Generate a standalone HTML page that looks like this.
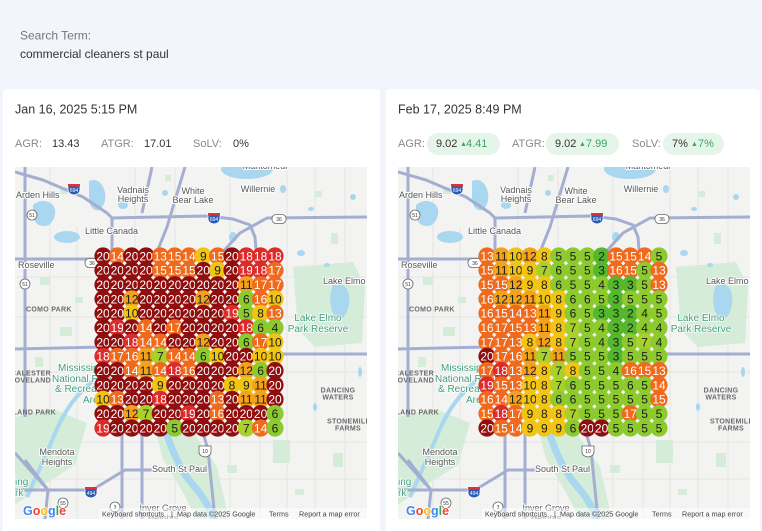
<!DOCTYPE html>
<html><head><meta charset="utf-8"><style>
html,body{margin:0;padding:0;background:#f2f5fb;}
svg{display:block;font-family:"Liberation Sans",sans-serif;}
.mk text{text-anchor:middle;font-size:12px;fill:#fff;}
.x{fill:#900e0e}.r{fill:#dc2b2b}.o{fill:#ef6a1c}.m{fill:#f4a11b}.y{fill:#f2c414}.l{fill:#a9d12c}.g{fill:#8dca2e}.G{fill:#55b82c}
circle.m+text,circle.y+text,circle.l+text,circle.g+text,circle.G+text{fill:#1d1d1d}
</style></head><body>
<svg width="762" height="531" viewBox="0 0 762 531" xmlns="http://www.w3.org/2000/svg">
<rect width="762" height="531" fill="#f2f5fb"/>
<text x="20" y="39.3" font-size="12" fill="#777">Search Term:</text>
<text x="20" y="57.8" font-size="12" fill="#333">commercial cleaners st paul</text>
<rect x="3" y="89" width="377" height="450" rx="4" fill="#fff"/>
<rect x="386" y="89" width="374" height="450" rx="4" fill="#fff"/>
<text x="15" y="113.5" font-size="12.5" fill="#333">Jan 16, 2025 5:15 PM</text>
<text x="398" y="113.5" font-size="12.5" fill="#333">Feb 17, 2025 8:49 PM</text>
<g font-size="11">
<text x="15" y="147" fill="#888">AGR:</text><text x="52" y="147" fill="#333">13.43</text>
<text x="101" y="147" fill="#888">ATGR:</text><text x="144" y="147" fill="#333">17.01</text>
<text x="193" y="147" fill="#888">SoLV:</text><text x="233" y="147" fill="#333">0%</text>
<rect x="427" y="133" width="73" height="22" rx="11" fill="#e5f5ea"/>
<rect x="546" y="133" width="73" height="22" rx="11" fill="#e5f5ea"/>
<rect x="663" y="133" width="61" height="22" rx="11" fill="#e5f5ea"/>
<text x="398" y="147" fill="#888">AGR:</text><text x="436" y="147" fill="#333">9.02</text><text x="460" y="146" font-size="7" fill="#3aa55d">▲</text><text x="466" y="147" fill="#3aa55d">4.41</text>
<text x="512" y="147" fill="#888">ATGR:</text><text x="555" y="147" fill="#333">9.02</text><text x="579" y="146" font-size="7" fill="#3aa55d">▲</text><text x="586" y="147" fill="#3aa55d">7.99</text>
<text x="632" y="147" fill="#888">SoLV:</text><text x="672" y="147" fill="#333">7%</text><text x="691" y="146" font-size="7" fill="#3aa55d">▲</text><text x="698" y="147" fill="#3aa55d">7%</text>
</g>

<!-- LEFT MAP -->
<svg x="15" y="167" width="352" height="352" overflow="hidden">
<rect width="352" height="352" fill="#f3f3f2"/>
<path d="M35 0V352M62 60V352M160 0V352M215 0V352M272 0V352M300 0V352M330 0V352M0 110H352M0 150H352M0 205H352M0 275H352M0 312H352M120 0V120M245 100V352" stroke="#e4e4e4" stroke-width="1" fill="none"/>
<g fill="#d4ecd8">
<path d="M278 100L338 95L350 120L347 176L300 180L283 162Z"/>
<path d="M140 262L176 262L202 300L214 352L182 352L166 322L148 292Z"/>
<path d="M0 250L38 242L72 256L60 298L28 318L0 338Z"/>
<rect x="45" y="20" width="8" height="7"/><rect x="150" y="8" width="6" height="6"/><rect x="300" y="24" width="7" height="6"/><rect x="316" y="66" width="7" height="11"/><rect x="258" y="273" width="17" height="23"/><rect x="318" y="286" width="10" height="14"/><rect x="212" y="298" width="10" height="8"/><rect x="280" y="322" width="9" height="6"/><rect x="25" y="110" width="10" height="8"/><rect x="45" y="160" width="12" height="9"/><rect x="20" y="190" width="8" height="10"/><rect x="60" y="130" width="8" height="6"/>
</g>
<g fill="#a8d7ef">
<path d="M18 38q10-8 20 0q6 10-4 20q-12 4-16-8z"/><ellipse cx="52" cy="70" rx="13" ry="6"/><path d="M74 14q10-4 15 8q4 12-4 21q-9 2-11-10z"/><ellipse cx="108" cy="38" rx="5" ry="4"/><ellipse cx="232" cy="2" rx="26" ry="10"/><ellipse cx="150" cy="26" rx="3" ry="3"/><ellipse cx="218" cy="70" rx="4" ry="5"/><ellipse cx="268" cy="22" rx="3" ry="4"/><ellipse cx="296" cy="42" rx="3" ry="2"/><ellipse cx="338" cy="30" rx="3" ry="3"/><ellipse cx="286" cy="86" rx="4" ry="3"/><path d="M318 118q10-4 15 6q4 14-4 26q-8 4-12-6q-4-14 1-26z"/><ellipse cx="312" cy="98" rx="3" ry="2"/><ellipse cx="345" cy="205" rx="2" ry="5"/><ellipse cx="300" cy="240" rx="2" ry="4"/>
</g>
<path d="M150 262Q162 300 178 318T198 352" stroke="#a8d7ef" stroke-width="7" fill="none"/>
<path d="M78 214Q55 232 42 262T12 330" stroke="#a8d7ef" stroke-width="4" fill="none"/>
<g stroke="#a3aed1" stroke-width="3" fill="none" stroke-linejoin="round">
<path d="M0 5L28 13L68 30L92 46L97 51L192 49L218 52L235 58L240 70L242 95"/><path d="M352 50L252 51L225 66L205 88"/><path d="M97 51V95"/><path d="M137 0L127 46"/><path d="M170 0L152 60L138 95"/><path d="M10 0V250"/><path d="M0 92H90"/><path d="M0 182L88 180"/><path d="M265 187H352"/><path d="M0 286L33 323L77 323L110 303L137 303"/><path d="M10 293L33 323L30 352"/><path d="M0 323H33"/><path d="M107 253V352"/><path d="M127 262V352"/><path d="M187 262L193 283L200 352"/>
</g>
<g font-size="5" text-anchor="middle">
<g transform="translate(59,22)"><path d="M-6 -5H6V1Q6 5 0 6Q-6 5 -6 1Z" fill="#2a5bb5" stroke="#fff" stroke-width="0.8"/><rect x="-6" y="-5" width="12" height="2.5" fill="#d33"/><text y="3" fill="#fff">694</text></g>
<g transform="translate(199,51)"><path d="M-6 -5H6V1Q6 5 0 6Q-6 5 -6 1Z" fill="#2a5bb5" stroke="#fff" stroke-width="0.8"/><rect x="-6" y="-5" width="12" height="2.5" fill="#d33"/><text y="3" fill="#fff">694</text></g>
<g transform="translate(76,325)"><path d="M-6 -5H6V1Q6 5 0 6Q-6 5 -6 1Z" fill="#2a5bb5" stroke="#fff" stroke-width="0.8"/><rect x="-6" y="-5" width="12" height="2.5" fill="#d33"/><text y="3" fill="#fff">494</text></g>
<g transform="translate(17,48)"><circle r="5" fill="#fff" stroke="#666" stroke-width="0.8"/><text y="2" fill="#333">51</text></g>
<g transform="translate(10,117)"><circle r="5" fill="#fff" stroke="#666" stroke-width="0.8"/><text y="2" fill="#333">51</text></g>
<g transform="translate(100,340)"><circle r="5" fill="#fff" stroke="#666" stroke-width="0.8"/><text y="2" fill="#333">3</text></g>
<g transform="translate(48,336)"><circle r="5" fill="#fff" stroke="#666" stroke-width="0.8"/><text y="2" fill="#333">55</text></g>
<g transform="translate(264,52)"><rect x="-7" y="-4.5" width="14" height="9" rx="4" fill="#fff" stroke="#666" stroke-width="0.8"/><text y="2" fill="#333">36</text></g>
<g transform="translate(77,96)"><rect x="-7" y="-4.5" width="14" height="9" rx="4" fill="#fff" stroke="#666" stroke-width="0.8"/><text y="2" fill="#333">36</text></g>
<g transform="translate(190,284)"><path d="M-6 -5H6V1Q6 5 0 6Q-6 5 -6 1Z" fill="#fff" stroke="#666" stroke-width="0.8"/><text y="2" fill="#333">10</text></g>
</g>
<g font-size="9" fill="#555" stroke="#fff" stroke-width="2" paint-order="stroke" stroke-linejoin="round">
<text x="1" y="31">Arden Hills</text><text x="118" y="26" text-anchor="middle">Vadnais</text><text x="118" y="35" text-anchor="middle">Heights</text><text x="178" y="27" text-anchor="middle">White</text><text x="178" y="36" text-anchor="middle">Bear Lake</text><text x="243" y="25" text-anchor="middle">Willernie</text><text x="250" y="2" text-anchor="middle">Mahtomedi</text><text x="70" y="67">Little Canada</text><text x="3" y="101">Roseville</text><text x="308" y="117">Lake Elmo</text><text x="42" y="288" text-anchor="middle">Mendota</text><text x="42" y="298" text-anchor="middle">Heights</text><text x="137" y="305">South St Paul</text><text x="148" y="344" text-anchor="middle">Inver Grove</text><text x="148" y="354" text-anchor="middle">Heights</text>
</g>
<g font-size="10" fill="#3f9c7d" stroke="#fff" stroke-width="1.5" paint-order="stroke">
<text x="303" y="154" text-anchor="middle">Lake Elmo</text><text x="303" y="165" text-anchor="middle">Park Reserve</text><text x="43" y="204">Mississippi</text><text x="37" y="215">National River</text><text x="40" y="225">&amp; Recreation</text><text x="68" y="236">Area</text><text x="0" y="318">ing</text><text x="0" y="329">rk</text>
</g>
<g font-size="7" font-weight="bold" fill="#6a6a6a" letter-spacing="0.3">
<text x="11" y="144.5">COMO PARK</text><text x="36" y="208.5" text-anchor="end">MACALESTER</text><text x="36" y="215.5" text-anchor="end">GROVELAND</text><text x="41" y="247.5" text-anchor="end">HIGHLAND PARK</text><text x="323" y="225.5" text-anchor="middle">DANCING</text><text x="323" y="232.5" text-anchor="middle">WATERS</text><text x="312" y="256.5">STONEMILL</text><text x="333" y="263.5" text-anchor="middle">FARMS</text>
</g>
<rect x="84" y="341" width="268" height="11" fill="#fff" opacity="0.5"/>
<g font-size="7.2" fill="#444"><text x="87" y="349.5">Keyboard shortcuts</text><text x="156" y="349.5">|</text><text x="162" y="349.5">Map data ©2025 Google</text><text x="254" y="349.5">Terms</text><text x="284" y="349.5">Report a map error</text></g>
<text x="8" y="348" font-size="12.5" font-weight="bold" stroke="#fff" stroke-width="1.5" paint-order="stroke"><tspan fill="#4285f4">G</tspan><tspan fill="#ea4335">o</tspan><tspan fill="#fbbc05">o</tspan><tspan fill="#4285f4">g</tspan><tspan fill="#34a853">l</tspan><tspan fill="#ea4335">e</tspan></text>
<g class="mk" transform="translate(88,89)">
<g><circle cx="0" r="8.6" class="x"/><text x="0" y="4.3">20</text><circle cx="14.3" r="8.6" class="o"/><text x="14.3" y="4.3">14</text><circle cx="28.7" r="8.6" class="x"/><text x="28.7" y="4.3">20</text><circle cx="43" r="8.6" class="x"/><text x="43" y="4.3">20</text><circle cx="57.3" r="8.6" class="o"/><text x="57.3" y="4.3">13</text><circle cx="71.7" r="8.6" class="o"/><text x="71.7" y="4.3">15</text><circle cx="86" r="8.6" class="o"/><text x="86" y="4.3">14</text><circle cx="100.3" r="8.6" class="y"/><text x="100.3" y="4.3">9</text><circle cx="114.6" r="8.6" class="o"/><text x="114.6" y="4.3">15</text><circle cx="129" r="8.6" class="x"/><text x="129" y="4.3">20</text><circle cx="143.3" r="8.6" class="r"/><text x="143.3" y="4.3">18</text><circle cx="157.6" r="8.6" class="r"/><text x="157.6" y="4.3">18</text><circle cx="172" r="8.6" class="r"/><text x="172" y="4.3">18</text></g>
<g transform="translate(0,14.3)"><circle cx="0" r="8.6" class="x"/><text x="0" y="4.3">20</text><circle cx="14.3" r="8.6" class="x"/><text x="14.3" y="4.3">20</text><circle cx="28.7" r="8.6" class="x"/><text x="28.7" y="4.3">20</text><circle cx="43" r="8.6" class="x"/><text x="43" y="4.3">20</text><circle cx="57.3" r="8.6" class="o"/><text x="57.3" y="4.3">15</text><circle cx="71.7" r="8.6" class="o"/><text x="71.7" y="4.3">15</text><circle cx="86" r="8.6" class="o"/><text x="86" y="4.3">15</text><circle cx="100.3" r="8.6" class="x"/><text x="100.3" y="4.3">20</text><circle cx="114.6" r="8.6" class="y"/><text x="114.6" y="4.3">9</text><circle cx="129" r="8.6" class="x"/><text x="129" y="4.3">20</text><circle cx="143.3" r="8.6" class="r"/><text x="143.3" y="4.3">19</text><circle cx="157.6" r="8.6" class="r"/><text x="157.6" y="4.3">18</text><circle cx="172" r="8.6" class="o"/><text x="172" y="4.3">17</text></g>
<g transform="translate(0,28.7)"><circle cx="0" r="8.6" class="x"/><text x="0" y="4.3">20</text><circle cx="14.3" r="8.6" class="x"/><text x="14.3" y="4.3">20</text><circle cx="28.7" r="8.6" class="x"/><text x="28.7" y="4.3">20</text><circle cx="43" r="8.6" class="x"/><text x="43" y="4.3">20</text><circle cx="57.3" r="8.6" class="x"/><text x="57.3" y="4.3">20</text><circle cx="71.7" r="8.6" class="x"/><text x="71.7" y="4.3">20</text><circle cx="86" r="8.6" class="x"/><text x="86" y="4.3">20</text><circle cx="100.3" r="8.6" class="x"/><text x="100.3" y="4.3">20</text><circle cx="114.6" r="8.6" class="x"/><text x="114.6" y="4.3">20</text><circle cx="129" r="8.6" class="x"/><text x="129" y="4.3">20</text><circle cx="143.3" r="8.6" class="m"/><text x="143.3" y="4.3">11</text><circle cx="157.6" r="8.6" class="o"/><text x="157.6" y="4.3">17</text><circle cx="172" r="8.6" class="o"/><text x="172" y="4.3">17</text></g>
<g transform="translate(0,43)"><circle cx="0" r="8.6" class="x"/><text x="0" y="4.3">20</text><circle cx="14.3" r="8.6" class="x"/><text x="14.3" y="4.3">20</text><circle cx="28.7" r="8.6" class="m"/><text x="28.7" y="4.3">12</text><circle cx="43" r="8.6" class="x"/><text x="43" y="4.3">20</text><circle cx="57.3" r="8.6" class="x"/><text x="57.3" y="4.3">20</text><circle cx="71.7" r="8.6" class="x"/><text x="71.7" y="4.3">20</text><circle cx="86" r="8.6" class="x"/><text x="86" y="4.3">20</text><circle cx="100.3" r="8.6" class="m"/><text x="100.3" y="4.3">12</text><circle cx="114.6" r="8.6" class="x"/><text x="114.6" y="4.3">20</text><circle cx="129" r="8.6" class="x"/><text x="129" y="4.3">20</text><circle cx="143.3" r="8.6" class="g"/><text x="143.3" y="4.3">6</text><circle cx="157.6" r="8.6" class="o"/><text x="157.6" y="4.3">16</text><circle cx="172" r="8.6" class="y"/><text x="172" y="4.3">10</text></g>
<g transform="translate(0,57.3)"><circle cx="0" r="8.6" class="x"/><text x="0" y="4.3">20</text><circle cx="14.3" r="8.6" class="x"/><text x="14.3" y="4.3">20</text><circle cx="28.7" r="8.6" class="y"/><text x="28.7" y="4.3">10</text><circle cx="43" r="8.6" class="x"/><text x="43" y="4.3">20</text><circle cx="57.3" r="8.6" class="x"/><text x="57.3" y="4.3">20</text><circle cx="71.7" r="8.6" class="x"/><text x="71.7" y="4.3">20</text><circle cx="86" r="8.6" class="x"/><text x="86" y="4.3">20</text><circle cx="100.3" r="8.6" class="x"/><text x="100.3" y="4.3">20</text><circle cx="114.6" r="8.6" class="x"/><text x="114.6" y="4.3">20</text><circle cx="129" r="8.6" class="r"/><text x="129" y="4.3">19</text><circle cx="143.3" r="8.6" class="g"/><text x="143.3" y="4.3">5</text><circle cx="157.6" r="8.6" class="y"/><text x="157.6" y="4.3">8</text><circle cx="172" r="8.6" class="o"/><text x="172" y="4.3">13</text></g>
<g transform="translate(0,71.7)"><circle cx="0" r="8.6" class="x"/><text x="0" y="4.3">20</text><circle cx="14.3" r="8.6" class="r"/><text x="14.3" y="4.3">19</text><circle cx="28.7" r="8.6" class="x"/><text x="28.7" y="4.3">20</text><circle cx="43" r="8.6" class="o"/><text x="43" y="4.3">14</text><circle cx="57.3" r="8.6" class="x"/><text x="57.3" y="4.3">20</text><circle cx="71.7" r="8.6" class="o"/><text x="71.7" y="4.3">17</text><circle cx="86" r="8.6" class="x"/><text x="86" y="4.3">20</text><circle cx="100.3" r="8.6" class="x"/><text x="100.3" y="4.3">20</text><circle cx="114.6" r="8.6" class="x"/><text x="114.6" y="4.3">20</text><circle cx="129" r="8.6" class="x"/><text x="129" y="4.3">20</text><circle cx="143.3" r="8.6" class="r"/><text x="143.3" y="4.3">18</text><circle cx="157.6" r="8.6" class="g"/><text x="157.6" y="4.3">6</text><circle cx="172" r="8.6" class="g"/><text x="172" y="4.3">4</text></g>
<g transform="translate(0,86)"><circle cx="0" r="8.6" class="x"/><text x="0" y="4.3">20</text><circle cx="14.3" r="8.6" class="x"/><text x="14.3" y="4.3">20</text><circle cx="28.7" r="8.6" class="r"/><text x="28.7" y="4.3">18</text><circle cx="43" r="8.6" class="o"/><text x="43" y="4.3">14</text><circle cx="57.3" r="8.6" class="o"/><text x="57.3" y="4.3">14</text><circle cx="71.7" r="8.6" class="x"/><text x="71.7" y="4.3">20</text><circle cx="86" r="8.6" class="x"/><text x="86" y="4.3">20</text><circle cx="100.3" r="8.6" class="m"/><text x="100.3" y="4.3">12</text><circle cx="114.6" r="8.6" class="x"/><text x="114.6" y="4.3">20</text><circle cx="129" r="8.6" class="x"/><text x="129" y="4.3">20</text><circle cx="143.3" r="8.6" class="g"/><text x="143.3" y="4.3">6</text><circle cx="157.6" r="8.6" class="o"/><text x="157.6" y="4.3">17</text><circle cx="172" r="8.6" class="y"/><text x="172" y="4.3">10</text></g>
<g transform="translate(0,100.3)"><circle cx="0" r="8.6" class="r"/><text x="0" y="4.3">18</text><circle cx="14.3" r="8.6" class="o"/><text x="14.3" y="4.3">17</text><circle cx="28.7" r="8.6" class="o"/><text x="28.7" y="4.3">16</text><circle cx="43" r="8.6" class="m"/><text x="43" y="4.3">11</text><circle cx="57.3" r="8.6" class="l"/><text x="57.3" y="4.3">7</text><circle cx="71.7" r="8.6" class="o"/><text x="71.7" y="4.3">14</text><circle cx="86" r="8.6" class="o"/><text x="86" y="4.3">14</text><circle cx="100.3" r="8.6" class="g"/><text x="100.3" y="4.3">6</text><circle cx="114.6" r="8.6" class="y"/><text x="114.6" y="4.3">10</text><circle cx="129" r="8.6" class="x"/><text x="129" y="4.3">20</text><circle cx="143.3" r="8.6" class="x"/><text x="143.3" y="4.3">20</text><circle cx="157.6" r="8.6" class="y"/><text x="157.6" y="4.3">10</text><circle cx="172" r="8.6" class="y"/><text x="172" y="4.3">10</text></g>
<g transform="translate(0,114.6)"><circle cx="0" r="8.6" class="x"/><text x="0" y="4.3">20</text><circle cx="14.3" r="8.6" class="x"/><text x="14.3" y="4.3">20</text><circle cx="28.7" r="8.6" class="o"/><text x="28.7" y="4.3">14</text><circle cx="43" r="8.6" class="m"/><text x="43" y="4.3">11</text><circle cx="57.3" r="8.6" class="o"/><text x="57.3" y="4.3">14</text><circle cx="71.7" r="8.6" class="r"/><text x="71.7" y="4.3">18</text><circle cx="86" r="8.6" class="o"/><text x="86" y="4.3">16</text><circle cx="100.3" r="8.6" class="x"/><text x="100.3" y="4.3">20</text><circle cx="114.6" r="8.6" class="x"/><text x="114.6" y="4.3">20</text><circle cx="129" r="8.6" class="x"/><text x="129" y="4.3">20</text><circle cx="143.3" r="8.6" class="m"/><text x="143.3" y="4.3">12</text><circle cx="157.6" r="8.6" class="g"/><text x="157.6" y="4.3">6</text><circle cx="172" r="8.6" class="x"/><text x="172" y="4.3">20</text></g>
<g transform="translate(0,129)"><circle cx="0" r="8.6" class="x"/><text x="0" y="4.3">20</text><circle cx="14.3" r="8.6" class="x"/><text x="14.3" y="4.3">20</text><circle cx="28.7" r="8.6" class="x"/><text x="28.7" y="4.3">20</text><circle cx="43" r="8.6" class="x"/><text x="43" y="4.3">20</text><circle cx="57.3" r="8.6" class="y"/><text x="57.3" y="4.3">9</text><circle cx="71.7" r="8.6" class="x"/><text x="71.7" y="4.3">20</text><circle cx="86" r="8.6" class="x"/><text x="86" y="4.3">20</text><circle cx="100.3" r="8.6" class="x"/><text x="100.3" y="4.3">20</text><circle cx="114.6" r="8.6" class="x"/><text x="114.6" y="4.3">20</text><circle cx="129" r="8.6" class="y"/><text x="129" y="4.3">8</text><circle cx="143.3" r="8.6" class="y"/><text x="143.3" y="4.3">9</text><circle cx="157.6" r="8.6" class="m"/><text x="157.6" y="4.3">11</text><circle cx="172" r="8.6" class="x"/><text x="172" y="4.3">20</text></g>
<g transform="translate(0,143.3)"><circle cx="0" r="8.6" class="y"/><text x="0" y="4.3">10</text><circle cx="14.3" r="8.6" class="o"/><text x="14.3" y="4.3">13</text><circle cx="28.7" r="8.6" class="x"/><text x="28.7" y="4.3">20</text><circle cx="43" r="8.6" class="x"/><text x="43" y="4.3">20</text><circle cx="57.3" r="8.6" class="r"/><text x="57.3" y="4.3">18</text><circle cx="71.7" r="8.6" class="x"/><text x="71.7" y="4.3">20</text><circle cx="86" r="8.6" class="x"/><text x="86" y="4.3">20</text><circle cx="100.3" r="8.6" class="x"/><text x="100.3" y="4.3">20</text><circle cx="114.6" r="8.6" class="o"/><text x="114.6" y="4.3">13</text><circle cx="129" r="8.6" class="x"/><text x="129" y="4.3">20</text><circle cx="143.3" r="8.6" class="m"/><text x="143.3" y="4.3">11</text><circle cx="157.6" r="8.6" class="m"/><text x="157.6" y="4.3">11</text><circle cx="172" r="8.6" class="x"/><text x="172" y="4.3">20</text></g>
<g transform="translate(0,157.6)"><circle cx="0" r="8.6" class="x"/><text x="0" y="4.3">20</text><circle cx="14.3" r="8.6" class="x"/><text x="14.3" y="4.3">20</text><circle cx="28.7" r="8.6" class="m"/><text x="28.7" y="4.3">12</text><circle cx="43" r="8.6" class="l"/><text x="43" y="4.3">7</text><circle cx="57.3" r="8.6" class="x"/><text x="57.3" y="4.3">20</text><circle cx="71.7" r="8.6" class="x"/><text x="71.7" y="4.3">20</text><circle cx="86" r="8.6" class="r"/><text x="86" y="4.3">19</text><circle cx="100.3" r="8.6" class="x"/><text x="100.3" y="4.3">20</text><circle cx="114.6" r="8.6" class="o"/><text x="114.6" y="4.3">16</text><circle cx="129" r="8.6" class="x"/><text x="129" y="4.3">20</text><circle cx="143.3" r="8.6" class="x"/><text x="143.3" y="4.3">20</text><circle cx="157.6" r="8.6" class="x"/><text x="157.6" y="4.3">20</text><circle cx="172" r="8.6" class="g"/><text x="172" y="4.3">6</text></g>
<g transform="translate(0,172)"><circle cx="0" r="8.6" class="r"/><text x="0" y="4.3">19</text><circle cx="14.3" r="8.6" class="x"/><text x="14.3" y="4.3">20</text><circle cx="28.7" r="8.6" class="x"/><text x="28.7" y="4.3">20</text><circle cx="43" r="8.6" class="x"/><text x="43" y="4.3">20</text><circle cx="57.3" r="8.6" class="x"/><text x="57.3" y="4.3">20</text><circle cx="71.7" r="8.6" class="g"/><text x="71.7" y="4.3">5</text><circle cx="86" r="8.6" class="x"/><text x="86" y="4.3">20</text><circle cx="100.3" r="8.6" class="x"/><text x="100.3" y="4.3">20</text><circle cx="114.6" r="8.6" class="x"/><text x="114.6" y="4.3">20</text><circle cx="129" r="8.6" class="x"/><text x="129" y="4.3">20</text><circle cx="143.3" r="8.6" class="l"/><text x="143.3" y="4.3">7</text><circle cx="157.6" r="8.6" class="o"/><text x="157.6" y="4.3">14</text><circle cx="172" r="8.6" class="g"/><text x="172" y="4.3">6</text></g>
</g>
</svg>

<!-- RIGHT MAP -->
<svg x="398" y="167" width="352" height="352" overflow="hidden">
<rect width="352" height="352" fill="#f3f3f2"/>
<path d="M35 0V352M62 60V352M160 0V352M215 0V352M272 0V352M300 0V352M330 0V352M0 110H352M0 150H352M0 205H352M0 275H352M0 312H352M120 0V120M245 100V352" stroke="#e4e4e4" stroke-width="1" fill="none"/>
<g fill="#d4ecd8">
<path d="M278 100L338 95L350 120L347 176L300 180L283 162Z"/>
<path d="M140 262L176 262L202 300L214 352L182 352L166 322L148 292Z"/>
<path d="M0 250L38 242L72 256L60 298L28 318L0 338Z"/>
<rect x="45" y="20" width="8" height="7"/><rect x="150" y="8" width="6" height="6"/><rect x="300" y="24" width="7" height="6"/><rect x="316" y="66" width="7" height="11"/><rect x="258" y="273" width="17" height="23"/><rect x="318" y="286" width="10" height="14"/><rect x="212" y="298" width="10" height="8"/><rect x="280" y="322" width="9" height="6"/><rect x="25" y="110" width="10" height="8"/><rect x="45" y="160" width="12" height="9"/><rect x="20" y="190" width="8" height="10"/><rect x="60" y="130" width="8" height="6"/>
</g>
<g fill="#a8d7ef">
<path d="M18 38q10-8 20 0q6 10-4 20q-12 4-16-8z"/><ellipse cx="52" cy="70" rx="13" ry="6"/><path d="M74 14q10-4 15 8q4 12-4 21q-9 2-11-10z"/><ellipse cx="108" cy="38" rx="5" ry="4"/><ellipse cx="232" cy="2" rx="26" ry="10"/><ellipse cx="150" cy="26" rx="3" ry="3"/><ellipse cx="218" cy="70" rx="4" ry="5"/><ellipse cx="268" cy="22" rx="3" ry="4"/><ellipse cx="296" cy="42" rx="3" ry="2"/><ellipse cx="338" cy="30" rx="3" ry="3"/><ellipse cx="286" cy="86" rx="4" ry="3"/><path d="M318 118q10-4 15 6q4 14-4 26q-8 4-12-6q-4-14 1-26z"/><ellipse cx="312" cy="98" rx="3" ry="2"/><ellipse cx="345" cy="205" rx="2" ry="5"/><ellipse cx="300" cy="240" rx="2" ry="4"/>
</g>
<path d="M150 262Q162 300 178 318T198 352" stroke="#a8d7ef" stroke-width="7" fill="none"/>
<path d="M78 214Q55 232 42 262T12 330" stroke="#a8d7ef" stroke-width="4" fill="none"/>
<g stroke="#a3aed1" stroke-width="3" fill="none" stroke-linejoin="round">
<path d="M0 5L28 13L68 30L92 46L97 51L192 49L218 52L235 58L240 70L242 95"/><path d="M352 50L252 51L225 66L205 88"/><path d="M97 51V95"/><path d="M137 0L127 46"/><path d="M170 0L152 60L138 95"/><path d="M10 0V250"/><path d="M0 92H90"/><path d="M0 182L88 180"/><path d="M265 187H352"/><path d="M0 286L33 323L77 323L110 303L137 303"/><path d="M10 293L33 323L30 352"/><path d="M0 323H33"/><path d="M107 253V352"/><path d="M127 262V352"/><path d="M187 262L193 283L200 352"/>
</g>
<g font-size="5" text-anchor="middle">
<g transform="translate(59,22)"><path d="M-6 -5H6V1Q6 5 0 6Q-6 5 -6 1Z" fill="#2a5bb5" stroke="#fff" stroke-width="0.8"/><rect x="-6" y="-5" width="12" height="2.5" fill="#d33"/><text y="3" fill="#fff">694</text></g>
<g transform="translate(199,51)"><path d="M-6 -5H6V1Q6 5 0 6Q-6 5 -6 1Z" fill="#2a5bb5" stroke="#fff" stroke-width="0.8"/><rect x="-6" y="-5" width="12" height="2.5" fill="#d33"/><text y="3" fill="#fff">694</text></g>
<g transform="translate(76,325)"><path d="M-6 -5H6V1Q6 5 0 6Q-6 5 -6 1Z" fill="#2a5bb5" stroke="#fff" stroke-width="0.8"/><rect x="-6" y="-5" width="12" height="2.5" fill="#d33"/><text y="3" fill="#fff">494</text></g>
<g transform="translate(17,48)"><circle r="5" fill="#fff" stroke="#666" stroke-width="0.8"/><text y="2" fill="#333">51</text></g>
<g transform="translate(10,117)"><circle r="5" fill="#fff" stroke="#666" stroke-width="0.8"/><text y="2" fill="#333">51</text></g>
<g transform="translate(100,340)"><circle r="5" fill="#fff" stroke="#666" stroke-width="0.8"/><text y="2" fill="#333">3</text></g>
<g transform="translate(48,336)"><circle r="5" fill="#fff" stroke="#666" stroke-width="0.8"/><text y="2" fill="#333">55</text></g>
<g transform="translate(264,52)"><rect x="-7" y="-4.5" width="14" height="9" rx="4" fill="#fff" stroke="#666" stroke-width="0.8"/><text y="2" fill="#333">36</text></g>
<g transform="translate(77,96)"><rect x="-7" y="-4.5" width="14" height="9" rx="4" fill="#fff" stroke="#666" stroke-width="0.8"/><text y="2" fill="#333">36</text></g>
<g transform="translate(190,284)"><path d="M-6 -5H6V1Q6 5 0 6Q-6 5 -6 1Z" fill="#fff" stroke="#666" stroke-width="0.8"/><text y="2" fill="#333">10</text></g>
</g>
<g font-size="9" fill="#555" stroke="#fff" stroke-width="2" paint-order="stroke" stroke-linejoin="round">
<text x="1" y="31">Arden Hills</text><text x="118" y="26" text-anchor="middle">Vadnais</text><text x="118" y="35" text-anchor="middle">Heights</text><text x="178" y="27" text-anchor="middle">White</text><text x="178" y="36" text-anchor="middle">Bear Lake</text><text x="243" y="25" text-anchor="middle">Willernie</text><text x="250" y="2" text-anchor="middle">Mahtomedi</text><text x="70" y="67">Little Canada</text><text x="3" y="101">Roseville</text><text x="308" y="117">Lake Elmo</text><text x="42" y="288" text-anchor="middle">Mendota</text><text x="42" y="298" text-anchor="middle">Heights</text><text x="137" y="305">South St Paul</text><text x="148" y="344" text-anchor="middle">Inver Grove</text><text x="148" y="354" text-anchor="middle">Heights</text>
</g>
<g font-size="10" fill="#3f9c7d" stroke="#fff" stroke-width="1.5" paint-order="stroke">
<text x="303" y="154" text-anchor="middle">Lake Elmo</text><text x="303" y="165" text-anchor="middle">Park Reserve</text><text x="43" y="204">Mississippi</text><text x="37" y="215">National River</text><text x="40" y="225">&amp; Recreation</text><text x="68" y="236">Area</text><text x="0" y="318">ing</text><text x="0" y="329">rk</text>
</g>
<g font-size="7" font-weight="bold" fill="#6a6a6a" letter-spacing="0.3">
<text x="11" y="144.5">COMO PARK</text><text x="36" y="208.5" text-anchor="end">MACALESTER</text><text x="36" y="215.5" text-anchor="end">GROVELAND</text><text x="41" y="247.5" text-anchor="end">HIGHLAND PARK</text><text x="323" y="225.5" text-anchor="middle">DANCING</text><text x="323" y="232.5" text-anchor="middle">WATERS</text><text x="312" y="256.5">STONEMILL</text><text x="333" y="263.5" text-anchor="middle">FARMS</text>
</g>
<rect x="84" y="341" width="268" height="11" fill="#fff" opacity="0.5"/>
<g font-size="7.2" fill="#444"><text x="87" y="349.5">Keyboard shortcuts</text><text x="156" y="349.5">|</text><text x="162" y="349.5">Map data ©2025 Google</text><text x="254" y="349.5">Terms</text><text x="284" y="349.5">Report a map error</text></g>
<text x="8" y="348" font-size="12.5" font-weight="bold" stroke="#fff" stroke-width="1.5" paint-order="stroke"><tspan fill="#4285f4">G</tspan><tspan fill="#ea4335">o</tspan><tspan fill="#fbbc05">o</tspan><tspan fill="#4285f4">g</tspan><tspan fill="#34a853">l</tspan><tspan fill="#ea4335">e</tspan></text>
<g class="mk" transform="translate(89,89)">
<g><circle cx="0" r="8.6" class="o"/><text x="0" y="4.3">13</text><circle cx="14.3" r="8.6" class="m"/><text x="14.3" y="4.3">11</text><circle cx="28.7" r="8.6" class="y"/><text x="28.7" y="4.3">10</text><circle cx="43" r="8.6" class="m"/><text x="43" y="4.3">12</text><circle cx="57.3" r="8.6" class="y"/><text x="57.3" y="4.3">8</text><circle cx="71.7" r="8.6" class="g"/><text x="71.7" y="4.3">5</text><circle cx="86" r="8.6" class="g"/><text x="86" y="4.3">5</text><circle cx="100.3" r="8.6" class="g"/><text x="100.3" y="4.3">5</text><circle cx="114.6" r="8.6" class="G"/><text x="114.6" y="4.3">2</text><circle cx="129" r="8.6" class="o"/><text x="129" y="4.3">15</text><circle cx="143.3" r="8.6" class="o"/><text x="143.3" y="4.3">15</text><circle cx="157.6" r="8.6" class="o"/><text x="157.6" y="4.3">14</text><circle cx="172" r="8.6" class="g"/><text x="172" y="4.3">5</text></g>
<g transform="translate(0,14.3)"><circle cx="0" r="8.6" class="o"/><text x="0" y="4.3">15</text><circle cx="14.3" r="8.6" class="m"/><text x="14.3" y="4.3">11</text><circle cx="28.7" r="8.6" class="y"/><text x="28.7" y="4.3">10</text><circle cx="43" r="8.6" class="y"/><text x="43" y="4.3">9</text><circle cx="57.3" r="8.6" class="l"/><text x="57.3" y="4.3">7</text><circle cx="71.7" r="8.6" class="g"/><text x="71.7" y="4.3">6</text><circle cx="86" r="8.6" class="g"/><text x="86" y="4.3">5</text><circle cx="100.3" r="8.6" class="g"/><text x="100.3" y="4.3">5</text><circle cx="114.6" r="8.6" class="G"/><text x="114.6" y="4.3">3</text><circle cx="129" r="8.6" class="o"/><text x="129" y="4.3">16</text><circle cx="143.3" r="8.6" class="o"/><text x="143.3" y="4.3">15</text><circle cx="157.6" r="8.6" class="g"/><text x="157.6" y="4.3">5</text><circle cx="172" r="8.6" class="o"/><text x="172" y="4.3">13</text></g>
<g transform="translate(0,28.7)"><circle cx="0" r="8.6" class="o"/><text x="0" y="4.3">15</text><circle cx="14.3" r="8.6" class="o"/><text x="14.3" y="4.3">15</text><circle cx="28.7" r="8.6" class="m"/><text x="28.7" y="4.3">12</text><circle cx="43" r="8.6" class="y"/><text x="43" y="4.3">9</text><circle cx="57.3" r="8.6" class="y"/><text x="57.3" y="4.3">8</text><circle cx="71.7" r="8.6" class="g"/><text x="71.7" y="4.3">6</text><circle cx="86" r="8.6" class="g"/><text x="86" y="4.3">5</text><circle cx="100.3" r="8.6" class="g"/><text x="100.3" y="4.3">5</text><circle cx="114.6" r="8.6" class="g"/><text x="114.6" y="4.3">4</text><circle cx="129" r="8.6" class="G"/><text x="129" y="4.3">3</text><circle cx="143.3" r="8.6" class="G"/><text x="143.3" y="4.3">3</text><circle cx="157.6" r="8.6" class="g"/><text x="157.6" y="4.3">5</text><circle cx="172" r="8.6" class="o"/><text x="172" y="4.3">13</text></g>
<g transform="translate(0,43)"><circle cx="0" r="8.6" class="o"/><text x="0" y="4.3">16</text><circle cx="14.3" r="8.6" class="m"/><text x="14.3" y="4.3">12</text><circle cx="28.7" r="8.6" class="m"/><text x="28.7" y="4.3">12</text><circle cx="43" r="8.6" class="m"/><text x="43" y="4.3">11</text><circle cx="57.3" r="8.6" class="y"/><text x="57.3" y="4.3">10</text><circle cx="71.7" r="8.6" class="y"/><text x="71.7" y="4.3">8</text><circle cx="86" r="8.6" class="g"/><text x="86" y="4.3">6</text><circle cx="100.3" r="8.6" class="g"/><text x="100.3" y="4.3">6</text><circle cx="114.6" r="8.6" class="g"/><text x="114.6" y="4.3">5</text><circle cx="129" r="8.6" class="G"/><text x="129" y="4.3">3</text><circle cx="143.3" r="8.6" class="g"/><text x="143.3" y="4.3">5</text><circle cx="157.6" r="8.6" class="g"/><text x="157.6" y="4.3">5</text><circle cx="172" r="8.6" class="g"/><text x="172" y="4.3">5</text></g>
<g transform="translate(0,57.3)"><circle cx="0" r="8.6" class="o"/><text x="0" y="4.3">16</text><circle cx="14.3" r="8.6" class="o"/><text x="14.3" y="4.3">15</text><circle cx="28.7" r="8.6" class="o"/><text x="28.7" y="4.3">14</text><circle cx="43" r="8.6" class="o"/><text x="43" y="4.3">13</text><circle cx="57.3" r="8.6" class="m"/><text x="57.3" y="4.3">11</text><circle cx="71.7" r="8.6" class="y"/><text x="71.7" y="4.3">9</text><circle cx="86" r="8.6" class="g"/><text x="86" y="4.3">6</text><circle cx="100.3" r="8.6" class="g"/><text x="100.3" y="4.3">5</text><circle cx="114.6" r="8.6" class="G"/><text x="114.6" y="4.3">3</text><circle cx="129" r="8.6" class="G"/><text x="129" y="4.3">3</text><circle cx="143.3" r="8.6" class="G"/><text x="143.3" y="4.3">2</text><circle cx="157.6" r="8.6" class="g"/><text x="157.6" y="4.3">4</text><circle cx="172" r="8.6" class="g"/><text x="172" y="4.3">5</text></g>
<g transform="translate(0,71.7)"><circle cx="0" r="8.6" class="o"/><text x="0" y="4.3">16</text><circle cx="14.3" r="8.6" class="o"/><text x="14.3" y="4.3">17</text><circle cx="28.7" r="8.6" class="o"/><text x="28.7" y="4.3">15</text><circle cx="43" r="8.6" class="o"/><text x="43" y="4.3">13</text><circle cx="57.3" r="8.6" class="m"/><text x="57.3" y="4.3">11</text><circle cx="71.7" r="8.6" class="y"/><text x="71.7" y="4.3">8</text><circle cx="86" r="8.6" class="l"/><text x="86" y="4.3">7</text><circle cx="100.3" r="8.6" class="g"/><text x="100.3" y="4.3">5</text><circle cx="114.6" r="8.6" class="g"/><text x="114.6" y="4.3">4</text><circle cx="129" r="8.6" class="G"/><text x="129" y="4.3">3</text><circle cx="143.3" r="8.6" class="G"/><text x="143.3" y="4.3">2</text><circle cx="157.6" r="8.6" class="g"/><text x="157.6" y="4.3">4</text><circle cx="172" r="8.6" class="g"/><text x="172" y="4.3">4</text></g>
<g transform="translate(0,86)"><circle cx="0" r="8.6" class="o"/><text x="0" y="4.3">17</text><circle cx="14.3" r="8.6" class="o"/><text x="14.3" y="4.3">17</text><circle cx="28.7" r="8.6" class="o"/><text x="28.7" y="4.3">13</text><circle cx="43" r="8.6" class="y"/><text x="43" y="4.3">8</text><circle cx="57.3" r="8.6" class="m"/><text x="57.3" y="4.3">12</text><circle cx="71.7" r="8.6" class="y"/><text x="71.7" y="4.3">8</text><circle cx="86" r="8.6" class="l"/><text x="86" y="4.3">7</text><circle cx="100.3" r="8.6" class="g"/><text x="100.3" y="4.3">5</text><circle cx="114.6" r="8.6" class="g"/><text x="114.6" y="4.3">4</text><circle cx="129" r="8.6" class="G"/><text x="129" y="4.3">3</text><circle cx="143.3" r="8.6" class="g"/><text x="143.3" y="4.3">5</text><circle cx="157.6" r="8.6" class="l"/><text x="157.6" y="4.3">7</text><circle cx="172" r="8.6" class="g"/><text x="172" y="4.3">4</text></g>
<g transform="translate(0,100.3)"><circle cx="0" r="8.6" class="x"/><text x="0" y="4.3">20</text><circle cx="14.3" r="8.6" class="o"/><text x="14.3" y="4.3">17</text><circle cx="28.7" r="8.6" class="o"/><text x="28.7" y="4.3">16</text><circle cx="43" r="8.6" class="m"/><text x="43" y="4.3">11</text><circle cx="57.3" r="8.6" class="l"/><text x="57.3" y="4.3">7</text><circle cx="71.7" r="8.6" class="m"/><text x="71.7" y="4.3">11</text><circle cx="86" r="8.6" class="g"/><text x="86" y="4.3">5</text><circle cx="100.3" r="8.6" class="g"/><text x="100.3" y="4.3">5</text><circle cx="114.6" r="8.6" class="g"/><text x="114.6" y="4.3">5</text><circle cx="129" r="8.6" class="G"/><text x="129" y="4.3">3</text><circle cx="143.3" r="8.6" class="g"/><text x="143.3" y="4.3">5</text><circle cx="157.6" r="8.6" class="g"/><text x="157.6" y="4.3">5</text><circle cx="172" r="8.6" class="g"/><text x="172" y="4.3">5</text></g>
<g transform="translate(0,114.6)"><circle cx="0" r="8.6" class="o"/><text x="0" y="4.3">17</text><circle cx="14.3" r="8.6" class="r"/><text x="14.3" y="4.3">18</text><circle cx="28.7" r="8.6" class="o"/><text x="28.7" y="4.3">13</text><circle cx="43" r="8.6" class="m"/><text x="43" y="4.3">12</text><circle cx="57.3" r="8.6" class="y"/><text x="57.3" y="4.3">8</text><circle cx="71.7" r="8.6" class="l"/><text x="71.7" y="4.3">7</text><circle cx="86" r="8.6" class="y"/><text x="86" y="4.3">8</text><circle cx="100.3" r="8.6" class="g"/><text x="100.3" y="4.3">5</text><circle cx="114.6" r="8.6" class="g"/><text x="114.6" y="4.3">5</text><circle cx="129" r="8.6" class="g"/><text x="129" y="4.3">4</text><circle cx="143.3" r="8.6" class="o"/><text x="143.3" y="4.3">16</text><circle cx="157.6" r="8.6" class="o"/><text x="157.6" y="4.3">15</text><circle cx="172" r="8.6" class="o"/><text x="172" y="4.3">13</text></g>
<g transform="translate(0,129)"><circle cx="0" r="8.6" class="r"/><text x="0" y="4.3">19</text><circle cx="14.3" r="8.6" class="o"/><text x="14.3" y="4.3">15</text><circle cx="28.7" r="8.6" class="o"/><text x="28.7" y="4.3">13</text><circle cx="43" r="8.6" class="y"/><text x="43" y="4.3">10</text><circle cx="57.3" r="8.6" class="y"/><text x="57.3" y="4.3">8</text><circle cx="71.7" r="8.6" class="l"/><text x="71.7" y="4.3">7</text><circle cx="86" r="8.6" class="g"/><text x="86" y="4.3">6</text><circle cx="100.3" r="8.6" class="g"/><text x="100.3" y="4.3">5</text><circle cx="114.6" r="8.6" class="g"/><text x="114.6" y="4.3">5</text><circle cx="129" r="8.6" class="g"/><text x="129" y="4.3">5</text><circle cx="143.3" r="8.6" class="g"/><text x="143.3" y="4.3">6</text><circle cx="157.6" r="8.6" class="g"/><text x="157.6" y="4.3">5</text><circle cx="172" r="8.6" class="o"/><text x="172" y="4.3">14</text></g>
<g transform="translate(0,143.3)"><circle cx="0" r="8.6" class="o"/><text x="0" y="4.3">16</text><circle cx="14.3" r="8.6" class="o"/><text x="14.3" y="4.3">14</text><circle cx="28.7" r="8.6" class="m"/><text x="28.7" y="4.3">12</text><circle cx="43" r="8.6" class="y"/><text x="43" y="4.3">10</text><circle cx="57.3" r="8.6" class="y"/><text x="57.3" y="4.3">8</text><circle cx="71.7" r="8.6" class="g"/><text x="71.7" y="4.3">6</text><circle cx="86" r="8.6" class="g"/><text x="86" y="4.3">6</text><circle cx="100.3" r="8.6" class="g"/><text x="100.3" y="4.3">5</text><circle cx="114.6" r="8.6" class="g"/><text x="114.6" y="4.3">5</text><circle cx="129" r="8.6" class="g"/><text x="129" y="4.3">5</text><circle cx="143.3" r="8.6" class="g"/><text x="143.3" y="4.3">5</text><circle cx="157.6" r="8.6" class="g"/><text x="157.6" y="4.3">5</text><circle cx="172" r="8.6" class="o"/><text x="172" y="4.3">15</text></g>
<g transform="translate(0,157.6)"><circle cx="0" r="8.6" class="o"/><text x="0" y="4.3">15</text><circle cx="14.3" r="8.6" class="r"/><text x="14.3" y="4.3">18</text><circle cx="28.7" r="8.6" class="o"/><text x="28.7" y="4.3">17</text><circle cx="43" r="8.6" class="y"/><text x="43" y="4.3">9</text><circle cx="57.3" r="8.6" class="y"/><text x="57.3" y="4.3">8</text><circle cx="71.7" r="8.6" class="y"/><text x="71.7" y="4.3">8</text><circle cx="86" r="8.6" class="l"/><text x="86" y="4.3">7</text><circle cx="100.3" r="8.6" class="g"/><text x="100.3" y="4.3">5</text><circle cx="114.6" r="8.6" class="g"/><text x="114.6" y="4.3">5</text><circle cx="129" r="8.6" class="g"/><text x="129" y="4.3">5</text><circle cx="143.3" r="8.6" class="o"/><text x="143.3" y="4.3">17</text><circle cx="157.6" r="8.6" class="g"/><text x="157.6" y="4.3">5</text><circle cx="172" r="8.6" class="g"/><text x="172" y="4.3">5</text></g>
<g transform="translate(0,172)"><circle cx="0" r="8.6" class="x"/><text x="0" y="4.3">20</text><circle cx="14.3" r="8.6" class="o"/><text x="14.3" y="4.3">15</text><circle cx="28.7" r="8.6" class="o"/><text x="28.7" y="4.3">14</text><circle cx="43" r="8.6" class="y"/><text x="43" y="4.3">9</text><circle cx="57.3" r="8.6" class="y"/><text x="57.3" y="4.3">9</text><circle cx="71.7" r="8.6" class="y"/><text x="71.7" y="4.3">9</text><circle cx="86" r="8.6" class="g"/><text x="86" y="4.3">6</text><circle cx="100.3" r="8.6" class="x"/><text x="100.3" y="4.3">20</text><circle cx="114.6" r="8.6" class="x"/><text x="114.6" y="4.3">20</text><circle cx="129" r="8.6" class="g"/><text x="129" y="4.3">5</text><circle cx="143.3" r="8.6" class="g"/><text x="143.3" y="4.3">5</text><circle cx="157.6" r="8.6" class="g"/><text x="157.6" y="4.3">5</text><circle cx="172" r="8.6" class="g"/><text x="172" y="4.3">5</text></g>
</g>
</svg>
</svg>
</body></html>
